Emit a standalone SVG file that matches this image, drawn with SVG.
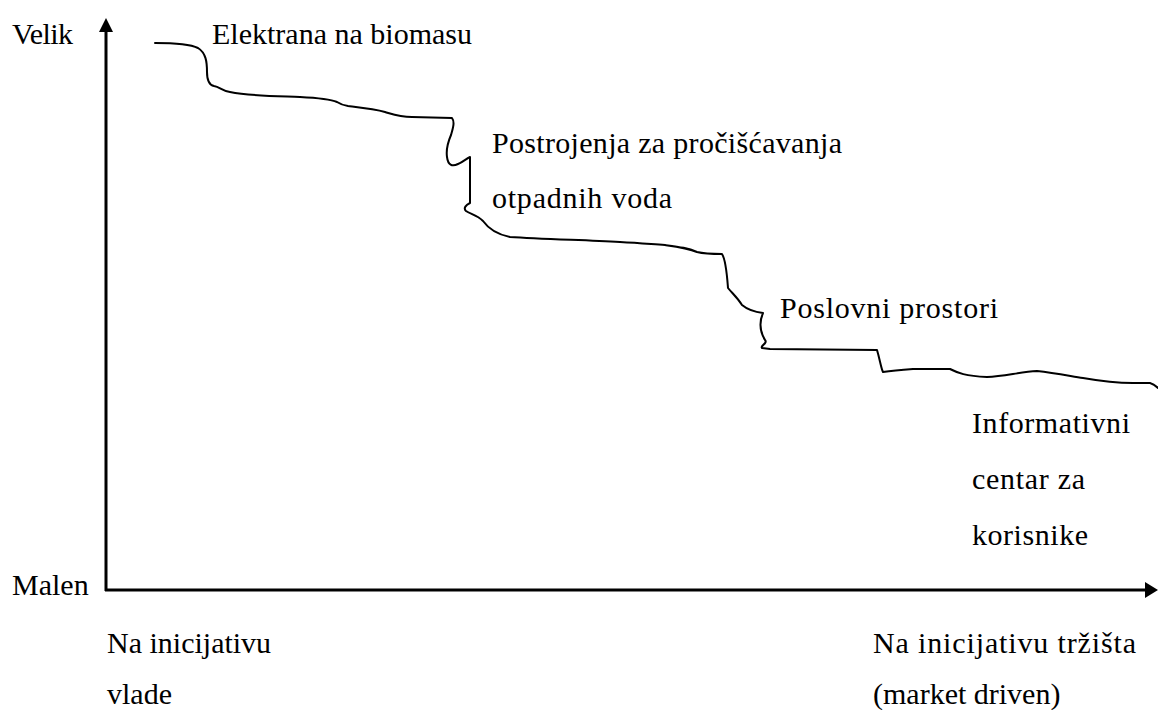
<svg xmlns="http://www.w3.org/2000/svg" width="1158" height="710" viewBox="0 0 1158 710">
<style>
.t{font-family:'Liberation Serif','Times New Roman',Tinos,'DejaVu Serif',serif;font-size:30px;fill:#000}
.ax{stroke:#000;stroke-width:3;fill:none}
.ah{fill:#000;stroke:none}
.cv{stroke:#000;stroke-width:2;fill:none;stroke-linejoin:round;stroke-linecap:round}
</style>
<g id="axes" class="connectors">
<path class="ax" d="M106,591 L106,30"/>
<polygon class="ah" points="106,18 113,32 99,32"/>
<path class="ax" d="M105,590 L1147,590"/>
<polygon class="ah" points="1158,590 1145,598 1145,582"/>
</g>
<g id="curve" class="connectors">
<path class="cv" d="M155,43 C175,43 190,44 198,48 C206,53 207,62 207,72 C207,80 209,85 214,86 C220,87 222,91 230,92 C250,96 270,96 300,97 C320,98 330,99 337,102 C340,104 342,105 348,106 C365,108 375,109 385,112 C395,115 400,117 412,117 L452,118 C455,122 453,128 451,135 C448,142 446,150 447,157 C448,165 452,167 458,164 C463,162 467,158 470,157 L470,203 C466,205 463,208 466,211 C470,214 477,215 483,221 C488,228 495,234 510,237 C540,239 580,240 620,242 C640,243 650,244 665,245 C680,247 688,248 697,252 C705,254 715,254 722,254 C726,260 727,275 728,288 C732,293 737,297 742,305 C748,310 755,312 763,313 C760,320 759,330 765,340 C768,343 760,346 762,348 L770,349 L877,350 C880,360 881,368 883,372 C890,371 900,370 913,369 L950,369 C958,373 965,376 987,377 C1005,376 1020,372 1037,371 C1055,373 1070,376 1083,378 C1100,381 1115,383 1133,383 L1150,383 C1154,384 1156,386 1158,388"/>
</g>
<g id="labels">
<text class="t" x="12" y="44" textLength="61">Velik</text>
<text class="t" x="12" y="595">Malen</text>
<text class="t" x="212" y="44" textLength="260">Elektrana na biomasu</text>
<text class="t" x="492" y="153" textLength="350">Postrojenja za pročišćavanja</text>
<text class="t" x="492" y="208" textLength="180">otpadnih voda</text>
<text class="t" x="780" y="318" textLength="218">Poslovni prostori</text>
<text class="t" x="972" y="433" textLength="158">Informativni</text>
<text class="t" x="972" y="489" textLength="113">centar za</text>
<text class="t" x="972" y="545" textLength="116">korisnike</text>
<text class="t" x="107" y="653">Na inicijativu</text>
<text class="t" x="107" y="704">vlade</text>
<text class="t" x="873" y="653" textLength="263">Na inicijativu tržišta</text>
<text class="t" x="873" y="704">(market driven)</text>
</g>
</svg>
